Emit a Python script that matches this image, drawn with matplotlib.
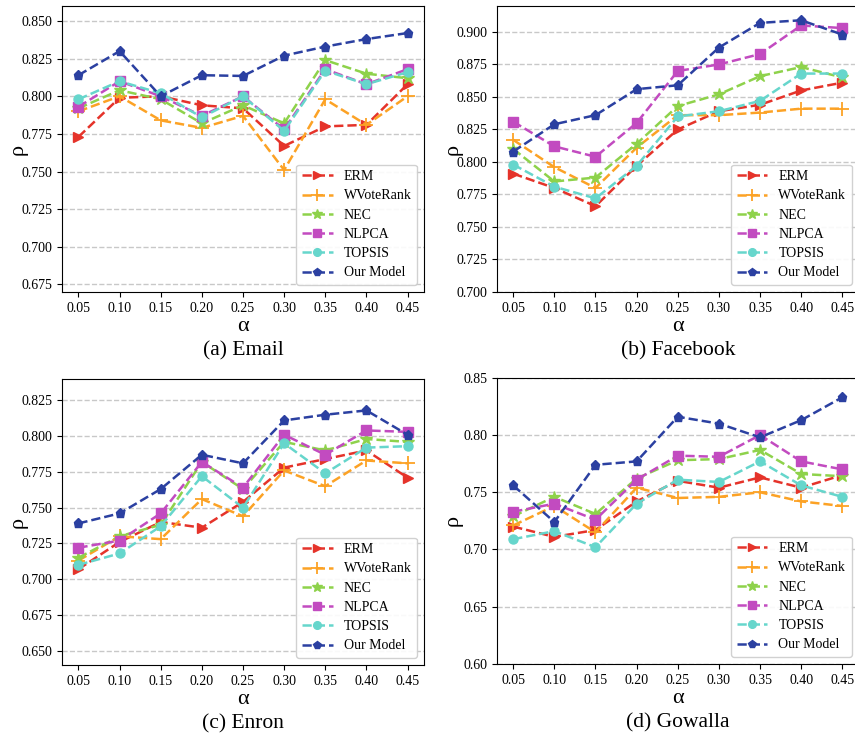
import matplotlib
matplotlib.use("Agg")
import matplotlib.pyplot as plt

plt.rcParams['font.family'] = ['Liberation Serif', 'DejaVu Serif']

alpha = [0.05, 0.10, 0.15, 0.20, 0.25, 0.30, 0.35, 0.40, 0.45]
methods = ["ERM", "WVoteRank", "NEC", "NLPCA", "TOPSIS", "Our Model"]

email = {
    "ERM":       [0.773, 0.799, 0.800, 0.794, 0.792, 0.767, 0.780, 0.781, 0.808],
    "WVoteRank": [0.790, 0.800, 0.784, 0.779, 0.787, 0.751, 0.798, 0.781, 0.800],
    "NEC":       [0.792, 0.804, 0.798, 0.782, 0.794, 0.782, 0.824, 0.815, 0.812],
    "NLPCA":     [0.793, 0.810, 0.800, 0.787, 0.800, 0.778, 0.818, 0.808, 0.818],
    "TOPSIS":    [0.798, 0.810, 0.802, 0.786, 0.800, 0.777, 0.817, 0.808, 0.816],
    "Our Model": [0.814, 0.830, 0.800, 0.814, 0.8135, 0.827, 0.833, 0.838, 0.842],
}
facebook = {
    "ERM":       [0.791, 0.780, 0.766, 0.797, 0.825, 0.839, 0.844, 0.855, 0.861],
    "WVoteRank": [0.817, 0.796, 0.780, 0.811, 0.836, 0.836, 0.838, 0.841, 0.841],
    "NEC":       [0.810, 0.785, 0.788, 0.814, 0.843, 0.852, 0.866, 0.873, 0.865],
    "NLPCA":     [0.831, 0.812, 0.804, 0.830, 0.870, 0.875, 0.883, 0.905, 0.903],
    "TOPSIS":    [0.798, 0.781, 0.772, 0.797, 0.835, 0.839, 0.847, 0.868, 0.868],
    "Our Model": [0.808, 0.829, 0.836, 0.856, 0.859, 0.888, 0.907, 0.909, 0.898],
}
enron = {
    "ERM":       [0.707, 0.726, 0.740, 0.736, 0.754, 0.778, 0.784, 0.790, 0.771],
    "WVoteRank": [0.713, 0.730, 0.728, 0.756, 0.744, 0.776, 0.765, 0.783, 0.781],
    "NEC":       [0.715, 0.730, 0.738, 0.782, 0.763, 0.796, 0.790, 0.798, 0.796],
    "NLPCA":     [0.722, 0.727, 0.746, 0.782, 0.764, 0.801, 0.787, 0.804, 0.803],
    "TOPSIS":    [0.710, 0.718, 0.737, 0.772, 0.750, 0.795, 0.774, 0.792, 0.793],
    "Our Model": [0.739, 0.746, 0.763, 0.787, 0.781, 0.811, 0.815, 0.818, 0.801],
}
gowalla = {
    "ERM":       [0.720, 0.711, 0.717, 0.742, 0.760, 0.754, 0.763, 0.754, 0.765],
    "WVoteRank": [0.721, 0.738, 0.715, 0.754, 0.745, 0.746, 0.750, 0.742, 0.738],
    "NEC":       [0.729, 0.746, 0.731, 0.762, 0.778, 0.779, 0.787, 0.766, 0.764],
    "NLPCA":     [0.733, 0.740, 0.726, 0.761, 0.782, 0.781, 0.800, 0.777, 0.770],
    "TOPSIS":    [0.709, 0.716, 0.702, 0.740, 0.761, 0.759, 0.777, 0.756, 0.746],
    "Our Model": [0.756, 0.724, 0.774, 0.777, 0.816, 0.810, 0.798, 0.813, 0.833],
}

colors = {"ERM": "#e5332a", "WVoteRank": "#fca225", "NEC": "#8ed24b",
          "NLPCA": "#c24bc0", "TOPSIS": "#66d6cc", "Our Model": "#2b40a1"}
markers = {"ERM": ">", "WVoteRank": "+", "NEC": "*", "NLPCA": "s",
           "TOPSIS": "o", "Our Model": "p"}
msizes = {"ERM": 7, "WVoteRank": 10, "NEC": 9, "NLPCA": 6.5, "TOPSIS": 6.5, "Our Model": 6.5}

panels = [
    (email, "(a) Email", [0.675, 0.700, 0.725, 0.750, 0.775, 0.800, 0.825, 0.850], (0.67, 0.86), "%.3f"),
    (facebook, "(b) Facebook", [0.700, 0.725, 0.750, 0.775, 0.800, 0.825, 0.850, 0.875, 0.900], (0.70, 0.92), "%.3f"),
    (enron, "(c) Enron", [0.650, 0.675, 0.700, 0.725, 0.750, 0.775, 0.800, 0.825], (0.64, 0.84), "%.3f"),
    (gowalla, "(d) Gowalla", [0.60, 0.65, 0.70, 0.75, 0.80, 0.85], (0.60, 0.85), "%.2f"),
]
positions = [
    [0.0725, 0.6033, 0.4234, 0.3886],
    [0.5810, 0.6033, 0.4234, 0.3886],
    [0.0725, 0.0965, 0.4234, 0.3886],
    [0.5810, 0.0980, 0.4234, 0.3886],
]

fig = plt.figure(figsize=(8.55, 7.36), dpi=100)
for (data, title, yticks, ylim, fmt), pos in zip(panels, positions):
    ax = fig.add_axes(pos)
    for m in methods:
        ax.plot(alpha, data[m], linestyle="--", color=colors[m], marker=markers[m],
                markersize=msizes[m], linewidth=1.8, label=m,
                markeredgewidth=1.3 if m == "WVoteRank" else 1.0)
    ax.set_xticks(alpha)
    ax.set_xticklabels(["%.2f" % a for a in alpha])
    ax.set_yticks(yticks)
    ax.set_yticklabels([fmt % t for t in yticks])
    ax.set_ylim(*ylim)
    ax.tick_params(labelsize=10)
    ax.yaxis.grid(True, linestyle="--", color="#c8c8c8", linewidth=1.0)
    ax.set_axisbelow(True)
    ax.set_xlabel("α", fontsize=16, labelpad=2)
    ax.set_ylabel("ρ", fontsize=16)
    ax.yaxis.set_label_coords(-0.095, 0.5)
    ax.text(0.5, -0.172, title, transform=ax.transAxes, ha="center", va="top", fontsize=15.5)
    ax.legend(loc="lower right", fontsize=10, handlelength=2.2, framealpha=0.9,
              edgecolor="#cccccc", fancybox=True, borderpad=0.4, labelspacing=0.45,
              markerscale=0.85)

fig.savefig("out.png", dpi=100)
